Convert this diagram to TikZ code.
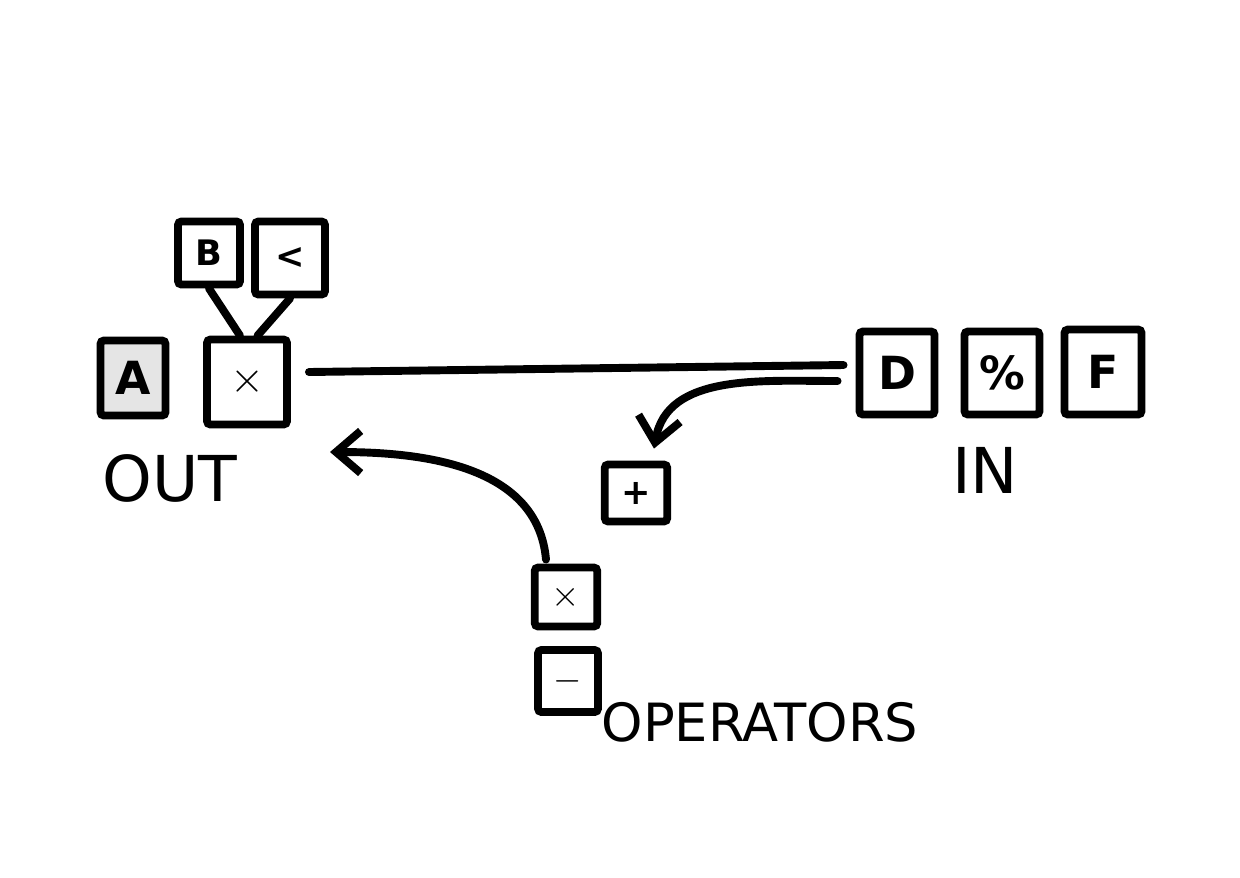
\documentclass[tikz,border=0pt]{standalone}
\usepackage{fontspec}
\setsansfont{DejaVu Sans}
\usetikzlibrary{arrows.meta,positioning}
\tikzset{
    key/.style={rectangle, draw, line width=4.5pt, rounded corners=2pt, font=\sffamily\bfseries\fontsize{26}{28}\selectfont, inner sep=0pt},
    bigkey/.style={key, minimum width=1.5cm, minimum height=1.66cm},
    smallkey/.style={key, minimum width=1.25cm, minimum height=1.18cm, font=\sffamily\bfseries\fontsize{20}{22}\selectfont},
    wire/.style={draw, line width=4.5pt, line cap=round},
    label/.style={font=\sffamily\fontsize{36}{38}\selectfont}
}
\begin{document}
\begin{tikzpicture}[x=0.02cm, y=-0.02cm]
    \useasboundingbox (0,0) rectangle (1240,877);
    % out side
    \node [bigkey, minimum width=1.3cm, minimum height=1.5cm, fill=black!10] (a) at (133,378) {A};
    \node [bigkey, minimum width=1.6cm, minimum height=1.7cm] (mul) at (247,382) {$\times$};
    \node [smallkey, minimum width=1.24cm, minimum height=1.26cm] (b) at (209,253) {B};
    \node [smallkey, minimum width=1.4cm, minimum height=1.46cm] (lt) at (290,258) {<};
    \node [label] (out) at (170,478) {OUT};
    % in side
    \node [bigkey] (d) at (897,373) {D};
    \node [bigkey] (pct) at (1002,373) {\%};
    \node [bigkey, minimum width=1.54cm, minimum height=1.7cm] (f) at (1103,372) {F};
    \node [label] (in) at (985,470) {IN};
    % operators
    \node [smallkey, minimum height=1.14cm] (plus) at (636,493) {+};
    \node [smallkey] (times) at (566,597) {$\times$};
    \node [smallkey, minimum width=1.2cm, minimum height=1.24cm] (minus) at (568,681) {$-$};
    \node [label, font=\sffamily\fontsize{30}{32}\selectfont] (ops) at (760,722) {OPERATORS};
    \coordinate (outtip) at (330,452);

    \path [wire] (b.south) -- ([xshift=-4pt]mul.north);
    \path [wire] (lt.south) -- ([xshift=6pt]mul.north);
    \path [wire] ([shift={(18,-10)}]mul.east) -- ([shift={(-12,-8)}]d.west);
    \path [wire, -{Straight Barb[length=14pt, width=24pt]}] ([shift={(-18,8)}]d.west) to[out=180, in=80] ([shift={(18,-12)}]plus.north);
    \path [wire, -{Straight Barb[length=14pt, width=24pt]}] ([shift={(-20,-4)}]times.north) to[out=95, in=0] (outtip);
\end{tikzpicture}
\end{document}
